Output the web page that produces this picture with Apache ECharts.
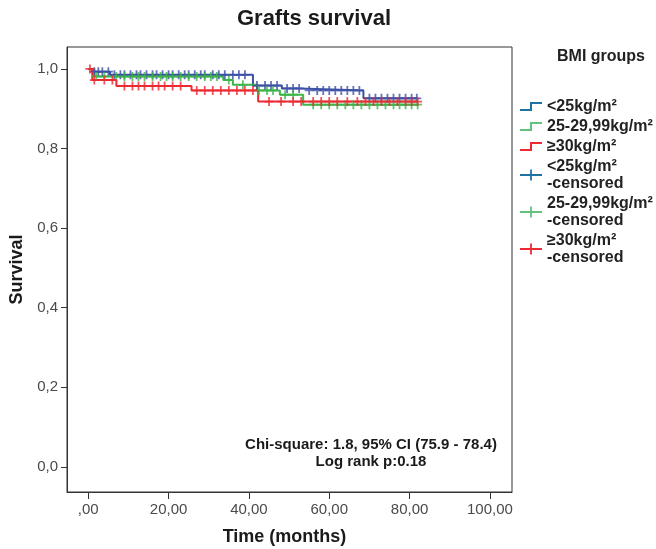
<!DOCTYPE html>
<html>
<head>
<meta charset="utf-8">
<script src="https://cdn.jsdelivr.net/npm/echarts@6/dist/echarts.min.js"></script>
<style>
  html, body { margin: 0; padding: 0; background: #fff; }
  #chart { width: 656px; height: 549px; }
</style>
</head>
<body>
<div id="chart"></div>
<script>
// Kaplan-Meier steps: [time, survival from that time on]
const bmiUnder25 = [[0, 1.0], [1, 0.993], [5.4, 0.985], [41, 0.958], [48.2, 0.951], [52.7, 0.946], [68.5, 0.926], [81.8, 0.926]];
const bmi25to30 = [[0, 1.0], [1.5, 0.981], [33.6, 0.972], [36, 0.960], [42, 0.946], [47.7, 0.935], [53.5, 0.910], [82, 0.910]];
const bmiOver30 = [[0, 1.0], [1, 0.972], [7, 0.957], [25.7, 0.946], [42.3, 0.918], [82, 0.918]];

// censoring times
const censUnder25 = [1.5, 2.5, 3.5, 5, 6.5, 8, 9, 10.5, 12, 13, 14.5, 16, 17, 18.5, 20, 21, 22.5, 24, 25, 26.5, 28, 29, 31, 32.5, 34, 36, 37.5, 39, 42, 44, 45.5, 47, 49.5, 51, 52.5, 55, 57, 58.5, 60, 61.5, 63, 64.5, 66, 67.5, 70, 71.5, 73, 74.5, 76, 77.5, 79, 80.5, 81.8];
const cens25to30 = [2, 4, 7, 9, 11, 12.5, 14, 16, 18, 19.5, 21, 23, 25, 27, 29, 30.5, 32, 35, 38.5, 42.5, 44.5, 46, 49, 51, 56, 58, 60, 62, 64, 66, 68, 70, 72, 74, 76, 77.5, 79, 80.5, 82];
const censOver30 = [0.4, 1.5, 4, 6, 9, 11, 12.5, 14, 16, 17.5, 19, 21, 23, 27, 29, 31, 33, 35, 37, 39, 41, 45, 48, 51, 53, 56, 58, 60, 62, 64.5, 67, 69, 71, 73, 75, 77, 79, 80.5, 82];

const groupNames = ['<25kg/m²', '25-29,99kg/m²', '≥30kg/m²'];
const xTicks = [0, 20, 40, 60, 80, 100];
const yTicks = [0, 0.2, 0.4, 0.6, 0.8, 1.0];

const lineColors = ['#3c51a6', '#3db54a', '#ec2a32'];
const legendColors = ['#1f72a3', '#62c27c', '#ec2a32'];
const FONT = '"Liberation Sans", Arial, Helvetica, sans-serif';

function survivalAt(steps, t) {
    let s = steps[0][1];
    for (const p of steps) {
        if (p[0] <= t) s = p[1];
    }
    return s;
}

const stepIcon = 'path://M0,8 H10 V1 H22 V3 H12 V10 H0 Z';
const crossIcon = 'path://M0,4.6 H22 V6.4 H0 Z M10.1,0 H11.9 V11 H10.1 Z';
const crossSymbol = 'path://M0,4 H10 V6 H0 Z M4,0 H6 V10 H4 Z';

const curves = [bmiUnder25, bmi25to30, bmiOver30];
const censored = [censUnder25, cens25to30, censOver30];

const series = [];
curves.forEach((steps, i) => {
    series.push({
        name: groupNames[i],
        type: 'line',
        step: 'end',
        data: steps,
        showSymbol: false,
        lineStyle: { color: lineColors[i], width: 2 },
        itemStyle: { color: lineColors[i] },
        z: 2
    });
});
censored.forEach((times, i) => {
    series.push({
        name: groupNames[i] + ' -censored',
        type: 'scatter',
        symbol: crossSymbol,
        symbolSize: 9,
        data: times.map(t => [t, survivalAt(curves[i], t)]),
        itemStyle: { color: lineColors[i] },
        z: 3
    });
});

const legendData = [];
groupNames.forEach((n, i) => legendData.push({ name: n, icon: stepIcon, itemStyle: { color: legendColors[i], opacity: 1 } }));
groupNames.forEach((n, i) => legendData.push({ name: n + ' -censored', icon: crossIcon, itemStyle: { color: legendColors[i], opacity: 1 } }));

const chart = echarts.init(document.getElementById('chart'));
chart.setOption({
    animation: false,
    textStyle: { fontFamily: FONT },
    grid: {
        left: 67, right: 144, top: 47, bottom: 57,
        outerBoundsMode: 'none',
        containLabel: false,
        show: true, borderColor: '#333', borderWidth: 1
    },
    legend: {
        orient: 'vertical',
        left: 520,
        top: 98,
        padding: 0,
        itemWidth: 22,
        itemHeight: 11,
        itemGap: 3,
        data: legendData,
        formatter: name => name.replace(' -censored', '\n-censored'),
        textStyle: { fontSize: 16, fontWeight: 'bold', color: '#222', lineHeight: 17, fontFamily: FONT }
    },
    xAxis: {
        type: 'value',
        min: -5.3,
        max: 105.5,
        name: 'Time (months)',
        nameLocation: 'middle',
        nameGap: 36,
        nameTextStyle: { fontSize: 18, fontWeight: 'bold', color: '#1a1a1a', padding: [0, 10, 0, 0] },
        splitLine: { show: false },
        axisLine: { show: true, onZero: false, lineStyle: { color: '#333' } },
        axisTick: { show: true, length: 7, customValues: xTicks, lineStyle: { color: '#333' } },
        axisLabel: {
            customValues: xTicks,
            margin: 10,
            fontSize: 15,
            color: '#4a4a4a',
            formatter: v => v === 0 ? ',00' : v.toFixed(2).replace('.', ',')
        }
    },
    yAxis: {
        type: 'value',
        min: -0.063,
        max: 1.055,
        name: 'Survival',
        nameLocation: 'middle',
        nameGap: 37,
        nameTextStyle: { fontSize: 18, fontWeight: 'bold', color: '#1a1a1a' },
        splitLine: { show: false },
        axisLine: { show: true, onZero: false, lineStyle: { color: '#333' } },
        axisTick: { show: true, length: 6, customValues: yTicks, lineStyle: { color: '#333' } },
        axisLabel: {
            customValues: yTicks,
            margin: 9,
            fontSize: 15,
            color: '#4a4a4a',
            formatter: v => v.toFixed(1).replace('.', ',')
        }
    },
    graphic: [
        {
            type: 'text', x: 314, y: 8,
            style: { text: 'Grafts survival', align: 'center', fontSize: 22, fontWeight: 'bold', fill: '#1a1a1a', fontFamily: FONT }
        },
        {
            type: 'text', left: 557, top: 49,
            style: { text: 'BMI groups', fontSize: 16, fontWeight: 'bold', fill: '#222', fontFamily: FONT }
        },
        {
            type: 'text', x: 371, y: 436,
            style: {
                text: 'Chi-square: 1.8, 95% CI (75.9 - 78.4)\nLog rank p:0.18',
                align: 'center', fontSize: 15, fontWeight: 'bold', fill: '#1a1a1a',
                lineHeight: 17, fontFamily: FONT
            }
        }
    ],
    series: series
});
</script>
</body>
</html>
